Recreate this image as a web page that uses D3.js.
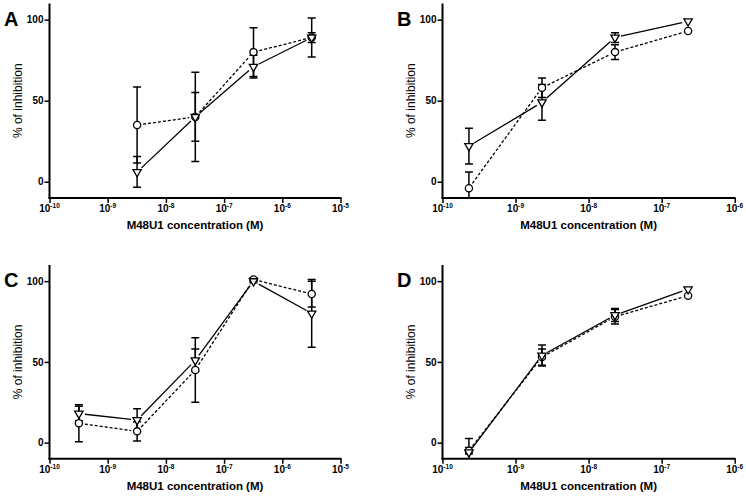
<!DOCTYPE html>
<html><head><meta charset="utf-8">
<script src="https://cdn.jsdelivr.net/npm/d3@7"></script>
<style>body{margin:0;background:#fff}svg{display:block}text{font-family:Arial,"Liberation Sans",sans-serif}</style>
</head><body><svg id="c" width="746" height="496"></svg>
<script>
// ---- data ----
const panelLetters = ["A", "B", "C", "D"];
const yTicks = [0, 50, 100];
const yDomain = [-10, 110];
const xDomainAC = [1e-10, 1e-5];
const xDomainBD = [1e-10, 1e-6];
const xTitle = "M48U1 concentration (M)";
const yTitle = "% of inhibition";

const xA = [3.2e-9, 3.2e-8, 3.2e-7, 3.2e-6];
const triA = [6, 40, 71, 89];      const triErrA = [9.5, 15, 7, 3];
const circA = [35, 40, 80, 89];    const circErrA = [23.5, 27.5, 15, 12];

const xB = [2.3e-10, 2.3e-9, 2.3e-8, 2.3e-7];
const triB = [22, 49, 89, 99];     const triErrB = [11, 11, 3, 0];
const circB = [-4, 58, 80, 93];    const circErrB = [10, 6, 4.5, 0];

const xC = [3.2e-10, 3.2e-9, 3.2e-8, 3.2e-7, 3.2e-6];
const triC = [18, 14, 51, 100, 80];  const triErrC = [4.5, 7, 7, 1, 21];
const circC = [12, 7, 45, 101, 92];  const circErrC = [11.5, 6, 20, 1, 8];

const xD = [2.3e-10, 2.3e-9, 2.3e-8, 2.3e-7];
const triD = [-6, 54, 79, 95];     const triErrD = [8.5, 6.5, 4, 0];
const circD = [-5, 53, 78, 91];    const circErrD = [2, 5, 4.5, 0];

const panels = [
  {letter: panelLetters[0], xs: xA, tri: triA, triE: triErrA, circ: circA, circE: circErrA, dom: xDomainAC, box: {x0: 49.5, x1: 340.5, y0: 3.5, y1: 197.9}},
  {letter: panelLetters[1], xs: xB, tri: triB, triE: triErrB, circ: circB, circE: circErrB, dom: xDomainBD, box: {x0: 442.5, x1: 734.7, y0: 3.5, y1: 197.9}},
  {letter: panelLetters[2], xs: xC, tri: triC, triE: triErrC, circ: circC, circE: circErrC, dom: xDomainAC, box: {x0: 49.5, x1: 340.5, y0: 265, y1: 458.8}},
  {letter: panelLetters[3], xs: xD, tri: triD, triE: triErrD, circ: circD, circE: circErrD, dom: xDomainBD, box: {x0: 442.5, x1: 734.7, y0: 265, y1: 458.8}}
];

const svg = d3.select("#c");

panels.forEach((p, pi) => {
  const b = p.box;
  const x = d3.scaleLog().domain(p.dom).range([b.x0, b.x1]);
  const y = d3.scaleLinear().domain(yDomain).range([b.y1, b.y0]);
  const g = svg.append("g");
  const clipId = "clip" + pi;
  svg.append("clipPath").attr("id", clipId).append("rect")
    .attr("x", b.x0 - 10).attr("y", b.y0 - 10).attr("width", b.x1 - b.x0 + 20).attr("height", b.y1 - b.y0 + 10);

  const decades = d3.range(Math.log10(p.dom[0]), Math.log10(p.dom[1]) + 0.5).map(e => Math.pow(10, e));

  // y axis
  const ya = g.append("g").attr("transform", `translate(${b.x0},0)`)
    .call(d3.axisLeft(y).tickValues(yTicks).tickSize(5).tickPadding(1).tickSizeOuter(0));
  ya.select(".domain").remove();
  ya.selectAll(".tick line").attr("stroke", "#000").attr("stroke-width", 1.5);
  ya.selectAll(".tick text").attr("font-size", 10).attr("font-weight", "bold").attr("fill", "#000")
    .attr("font-family", "Arial, 'Liberation Sans', sans-serif");
  g.append("line").attr("x1", b.x0).attr("x2", b.x0).attr("y1", b.y0).attr("y2", b.y1 + 1)
    .attr("stroke", "#000").attr("stroke-width", 2);

  // x axis
  const xa = g.append("g").attr("transform", `translate(0,${b.y1})`)
    .call(d3.axisBottom(x).tickValues(decades).tickFormat("").tickSize(5).tickSizeOuter(0));
  xa.select(".domain").remove();
  xa.selectAll(".tick line").attr("stroke", "#000").attr("stroke-width", 1.5);
  g.append("line").attr("x1", b.x0 - 1).attr("x2", b.x1 + 1).attr("y1", b.y1).attr("y2", b.y1)
    .attr("stroke", "#000").attr("stroke-width", 2);
  decades.forEach(d => {
    const t = g.append("text").attr("x", x(d)).attr("y", b.y1 + 14).attr("text-anchor", "middle")
      .attr("font-size", 10).attr("font-weight", "bold");
    t.append("tspan").text("10");
    t.append("tspan").attr("font-size", 6.5).attr("dy", -4).text("-" + Math.round(-Math.log10(d)));
  });

  // titles
  g.append("text").attr("x", (b.x0 + b.x1) / 2).attr("y", b.y1 + 31).attr("text-anchor", "middle")
    .attr("font-size", 11.5).attr("font-weight", "bold").text(xTitle);
  const yc = (y(100) + y(0)) / 2;
  g.append("text").attr("transform", `translate(${b.x0 - 28},${yc}) rotate(-90)`).attr("text-anchor", "middle")
    .attr("font-size", 12).text(yTitle);
  g.append("text").attr("x", b.x0 - 31).attr("y", y(100) + 6).attr("text-anchor", "end")
    .attr("font-size", 20).attr("font-weight", "bold").text(p.letter);

  const plot = g.append("g").attr("clip-path", `url(#${clipId})`);

  // connecting lines with gaps
  function seg(vals, dash) {
    for (let i = 0; i < vals.length - 1; i++) {
      const ax = x(p.xs[i]), ay = y(vals[i]), bx = x(p.xs[i + 1]), by = y(vals[i + 1]);
      const L = Math.hypot(bx - ax, by - ay), gap = 6;
      const ux = (bx - ax) / L, uy = (by - ay) / L;
      plot.append("line").attr("x1", ax + ux * gap).attr("y1", ay + uy * gap)
        .attr("x2", bx - ux * gap).attr("y2", by - uy * gap)
        .attr("stroke", "#000").attr("stroke-width", 1.3)
        .attr("stroke-dasharray", dash ? "3,2" : null);
    }
  }
  seg(p.circ, true);
  seg(p.tri, false);

  // error bars
  function err(vals, errs) {
    vals.forEach((v, i) => {
      if (!errs[i]) return;
      const cx = x(p.xs[i]);
      const hi = y(v + errs[i]), lo = y(v - errs[i]);
      plot.append("line").attr("x1", cx).attr("x2", cx).attr("y1", hi).attr("y2", lo)
        .attr("stroke", "#000").attr("stroke-width", 1.5);
      [hi, lo].forEach(yy => plot.append("line").attr("x1", cx - 4).attr("x2", cx + 4)
        .attr("y1", yy).attr("y2", yy).attr("stroke", "#000").attr("stroke-width", 1.5));
    });
  }
  err(p.circ, p.circE);
  err(p.tri, p.triE);

  // markers
  p.circ.forEach((v, i) => {
    plot.append("circle").attr("cx", x(p.xs[i])).attr("cy", y(v)).attr("r", 3.6)
      .attr("fill", "#fff").attr("stroke", "#000").attr("stroke-width", 1.3);
  });
  const tri = d3.symbol().type(d3.symbolTriangle).size(30);
  p.tri.forEach((v, i) => {
    plot.append("path").attr("d", tri()).attr("transform", `translate(${x(p.xs[i])},${y(v)}) rotate(180)`)
      .attr("fill", "#fff").attr("stroke", "#000").attr("stroke-width", 1.3);
  });
});
</script></body></html>
